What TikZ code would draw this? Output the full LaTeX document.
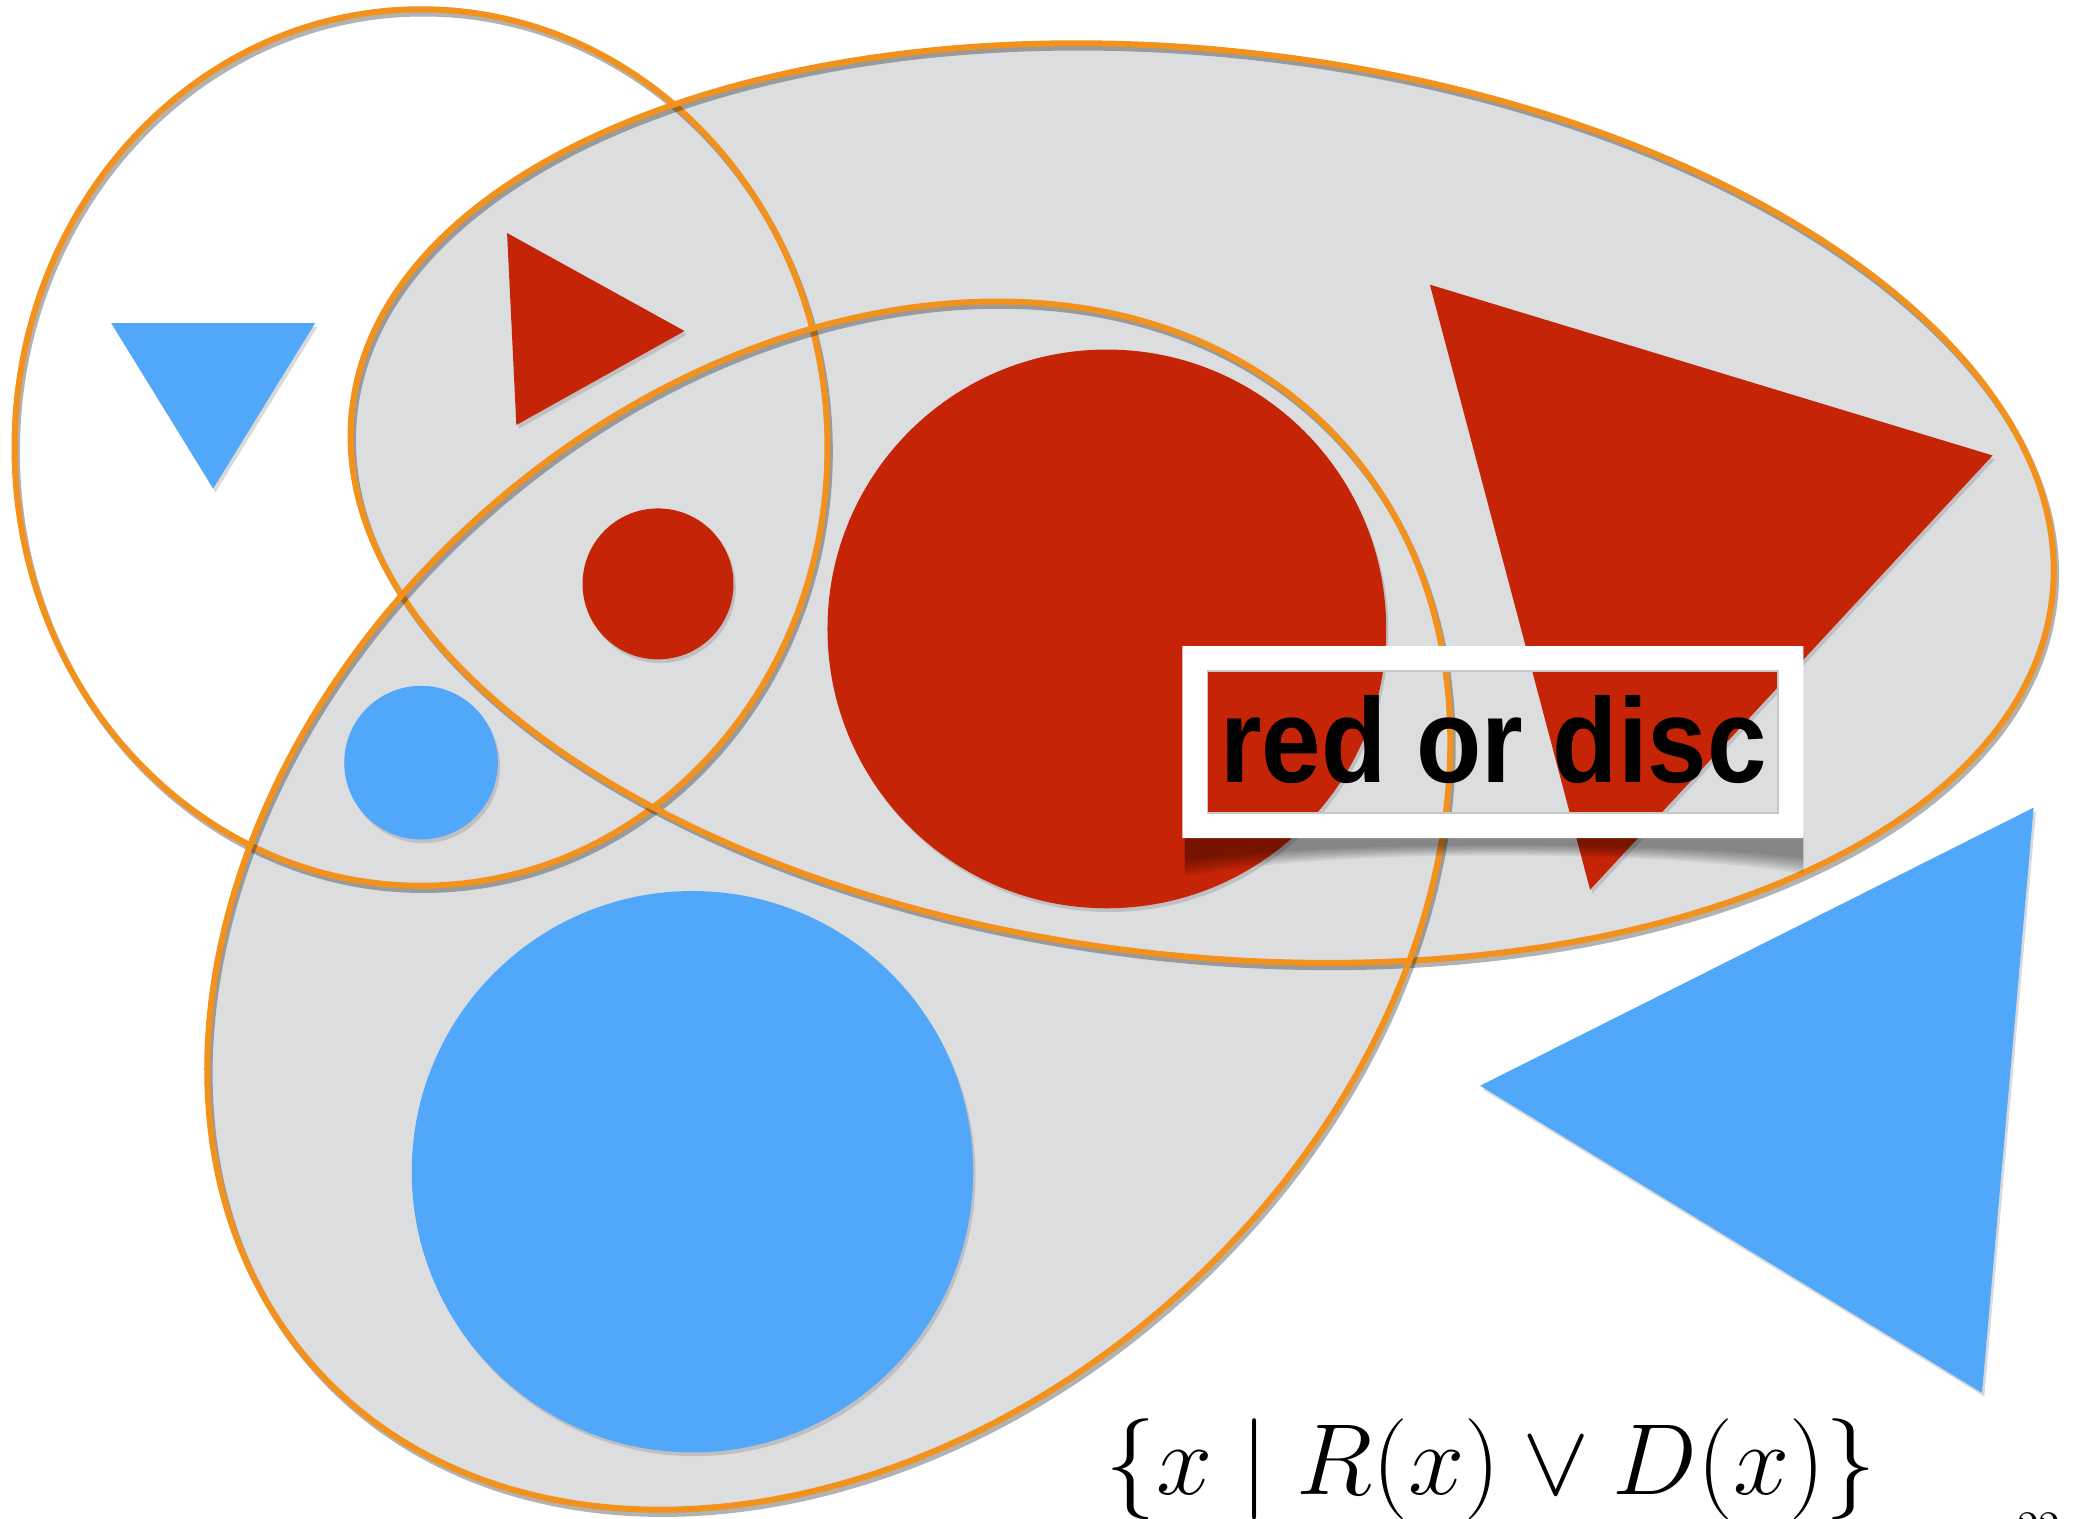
\RequirePackage{fix-cm}
\documentclass[tikz,border=0pt]{standalone}
\usepackage{fontspec}
\newfontfamily\labelfont{Liberation Sans}[FakeStretch=0.89]
\usetikzlibrary{shadows}
\definecolor{setorange}{RGB}{242,145,27}
\definecolor{setgray}{RGB}{220,221,223}
\definecolor{shapered}{RGB}{198,36,7}
\definecolor{shapeblue}{RGB}{81,167,249}
\tikzset{
  setfill/.style={fill=setgray},
  setline/.style={draw=setorange, line width=1.3pt,
    preaction={draw=black, opacity=0.3, line width=1.3pt, transform canvas={xshift=0.5pt, yshift=-0.9pt}}},
  redshape/.style={fill=shapered, drop shadow={shadow xshift=0.5pt, shadow yshift=-0.8pt, opacity=0.3}},
  blueshape/.style={fill=shapeblue, drop shadow={shadow xshift=0.5pt, shadow yshift=-0.8pt, opacity=0.3}},
  labelframe/.style={fill=white, even odd rule},
  innerline/.style={draw=black!22, line width=0.4pt},
  labeltext/.style={font=\labelfont\bfseries\fontsize{25.8}{29}\selectfont, inner sep=0pt},
  formula/.style={font=\fontsize{21.7}{26}\selectfont, inner sep=0pt}
}

\begin{document}
\begin{tikzpicture}[x=0.01cm, y=-0.01cm]
  \useasboundingbox (0,0) rectangle (1568,1147);

  \foreach \cx/\cy/\rx/\ry/\ang in {908/380/646/342/-6.3, 626/684/522/395/42}
    \fill[setfill, rotate around={\ang:(\cx,\cy)}] (\cx,\cy) ellipse [x radius=\rx, y radius=\ry];
  \foreach \cx/\cy/\rx/\ry/\ang in {318/338/307/331/0, 908/380/646/342/-6.3, 626/684/522/395/42}
    \draw[setline, rotate around={\ang:(\cx,\cy)}] (\cx,\cy) ellipse [x radius=\rx, y radius=\ry];

  \fill[blueshape] (84,244) -- (238,244) -- (161,369) -- cycle;
  \fill[redshape] (383,176) -- (517,250) -- (390,321) -- cycle;
  \fill[redshape] (1080,215) -- (1505,344) -- (1201,672) -- cycle;
  \fill[blueshape] (1118,820) -- (1536,610) -- (1497,1052) -- cycle;
  \fill[redshape] (497,441) circle [radius=57];
  \fill[blueshape] (318,576) circle [radius=58];
  \fill[redshape] (836,475) circle [radius=211];
  \fill[blueshape] (523,885) circle [radius=212];

  \foreach \i in {1,...,7}
    \fill[black, opacity=0.065] (895,630) -- (1362,630) -- (1362,{646+2*\i})
      .. controls (1250,{634+\i}) and (1000,{634+\i}) .. (895,{648+2*\i}) -- cycle;
  \fill[labelframe] (893,488) rectangle (1362,633) (912,507) rectangle (1343,614);
  \draw[innerline] (912,507) rectangle (1343,614);
  \node[labeltext, anchor=base] (setlabel) at (1128,591) {red or disc};

  \node[formula, anchor=base] (setformula) at (1126,1129) {$\{x \mid R(x) \lor D(x)\}$};
  \node[anchor=north, inner sep=0pt, font=\fontsize{9}{11}\selectfont] (pagenum) at (1540,1141.5) {22};
\end{tikzpicture}
\end{document}
